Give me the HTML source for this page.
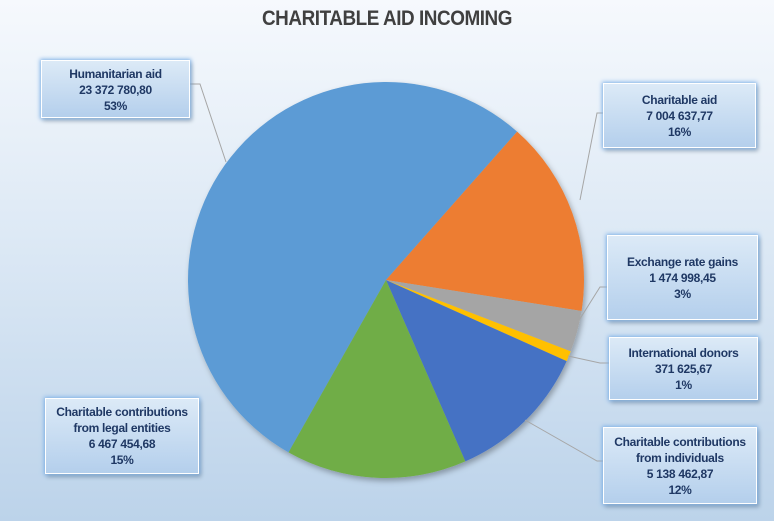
<!DOCTYPE html>
<html><head><meta charset="utf-8"><style>
body{margin:0;width:774px;height:521px;overflow:hidden;font-family:"Liberation Sans",sans-serif;}
#wrap{position:relative;width:774px;height:521px;background:linear-gradient(#f6f9fd 0%,#dde9f5 45%,#bcd3ea 100%);}
.title{position:absolute;left:0;width:774px;top:7px;text-align:center;font-size:21px;font-weight:bold;color:#404040;letter-spacing:-0.5px;transform:scaleX(0.9)}
.lbl{position:absolute;box-sizing:border-box;background:linear-gradient(#dceaf7,#b4cfec);border:1px solid #fff;box-shadow:0 0 4px 1px #7fb2e8,2px 3px 4px rgba(0,0,0,.25);color:#1f3864;font-weight:bold;font-size:12px;line-height:16px;text-align:center;padding-top:5px;letter-spacing:-0.3px}
</style></head><body>
<div id="wrap">
<div class="title">CHARITABLE AID INCOMING</div>
<svg id="pie" width="774" height="521" style="position:absolute;left:0;top:0">
<defs><filter id="sh" x="-20%" y="-20%" width="140%" height="140%"><feDropShadow dx="2" dy="3" stdDeviation="3" flood-opacity="0.3"/></filter></defs>
<g id="slices" filter="url(#sh)"></g>
<g id="leaders" stroke="#a6a6a6" fill="none" stroke-width="1"></g>
</svg>
<div class="lbl" style="left:41px;top:60px;width:149px;height:58px">Humanitarian aid<br>23 372 780,80<br>53%</div>
<div class="lbl" style="left:603px;top:83px;width:153px;height:65px;padding-top:8px">Charitable aid<br>7 004 637,77<br>16%</div>
<div class="lbl" style="left:607px;top:235px;width:151px;height:85px;padding-top:18px">Exchange rate gains<br>1 474 998,45<br>3%</div>
<div class="lbl" style="left:609px;top:337px;width:149px;height:63px;padding-top:7px">International donors<br>371 625,67<br>1%</div>
<div class="lbl" style="left:603px;top:427px;width:154px;height:77px;padding-top:6px">Charitable contributions<br>from individuals<br>5 138 462,87<br>12%</div>
<div class="lbl" style="left:45px;top:398px;width:154px;height:76px;padding-top:5px">Charitable contributions<br>from legal entities<br>6 467 454,68<br>15%</div>
</div>
<script>
const categories=["Humanitarian aid","Charitable aid","Exchange rate gains","International donors","Charitable contributions from individuals","Charitable contributions from legal entities"];
const values=[23372780.80,7004637.77,1474998.45,371625.67,5138462.87,6467454.68];
const colors=["#5b9bd5","#ed7d31","#a5a5a5","#ffc000","#4472c4","#70ad47"];
const cx=386,cy=280,r=198,startDeg=209.5;
const total=values.reduce((a,b)=>a+b,0);
const g=document.getElementById('slices');
const NS="http://www.w3.org/2000/svg";
function pt(deg){const a=(deg-90)*Math.PI/180;return [cx+r*Math.cos(a),cy+r*Math.sin(a)];}
let ang=startDeg;
values.forEach((v,i)=>{
  const sweep=v/total*360;
  const [x1,y1]=pt(ang),[x2,y2]=pt(ang+sweep);
  const p=document.createElementNS(NS,'path');
  p.setAttribute('d',`M${cx},${cy}L${x1},${y1}A${r},${r} 0 ${sweep>180?1:0} 1 ${x2},${y2}Z`);
  p.setAttribute('fill',colors[i]);
  
  
  g.appendChild(p);
  ang+=sweep;
});
const lines=["190,84 200,84 226,162","603,113 597,113 580,200","607,287 600,287 578,322","609,363 600,363 568,356","603,461 597,461 525,420"];
const lg=document.getElementById('leaders');
lines.forEach((l,i)=>{
  const pl=document.createElementNS(NS,'polyline');
  pl.setAttribute('points',l);
  
  
  lg.appendChild(pl);
});
</script>
</body></html>
